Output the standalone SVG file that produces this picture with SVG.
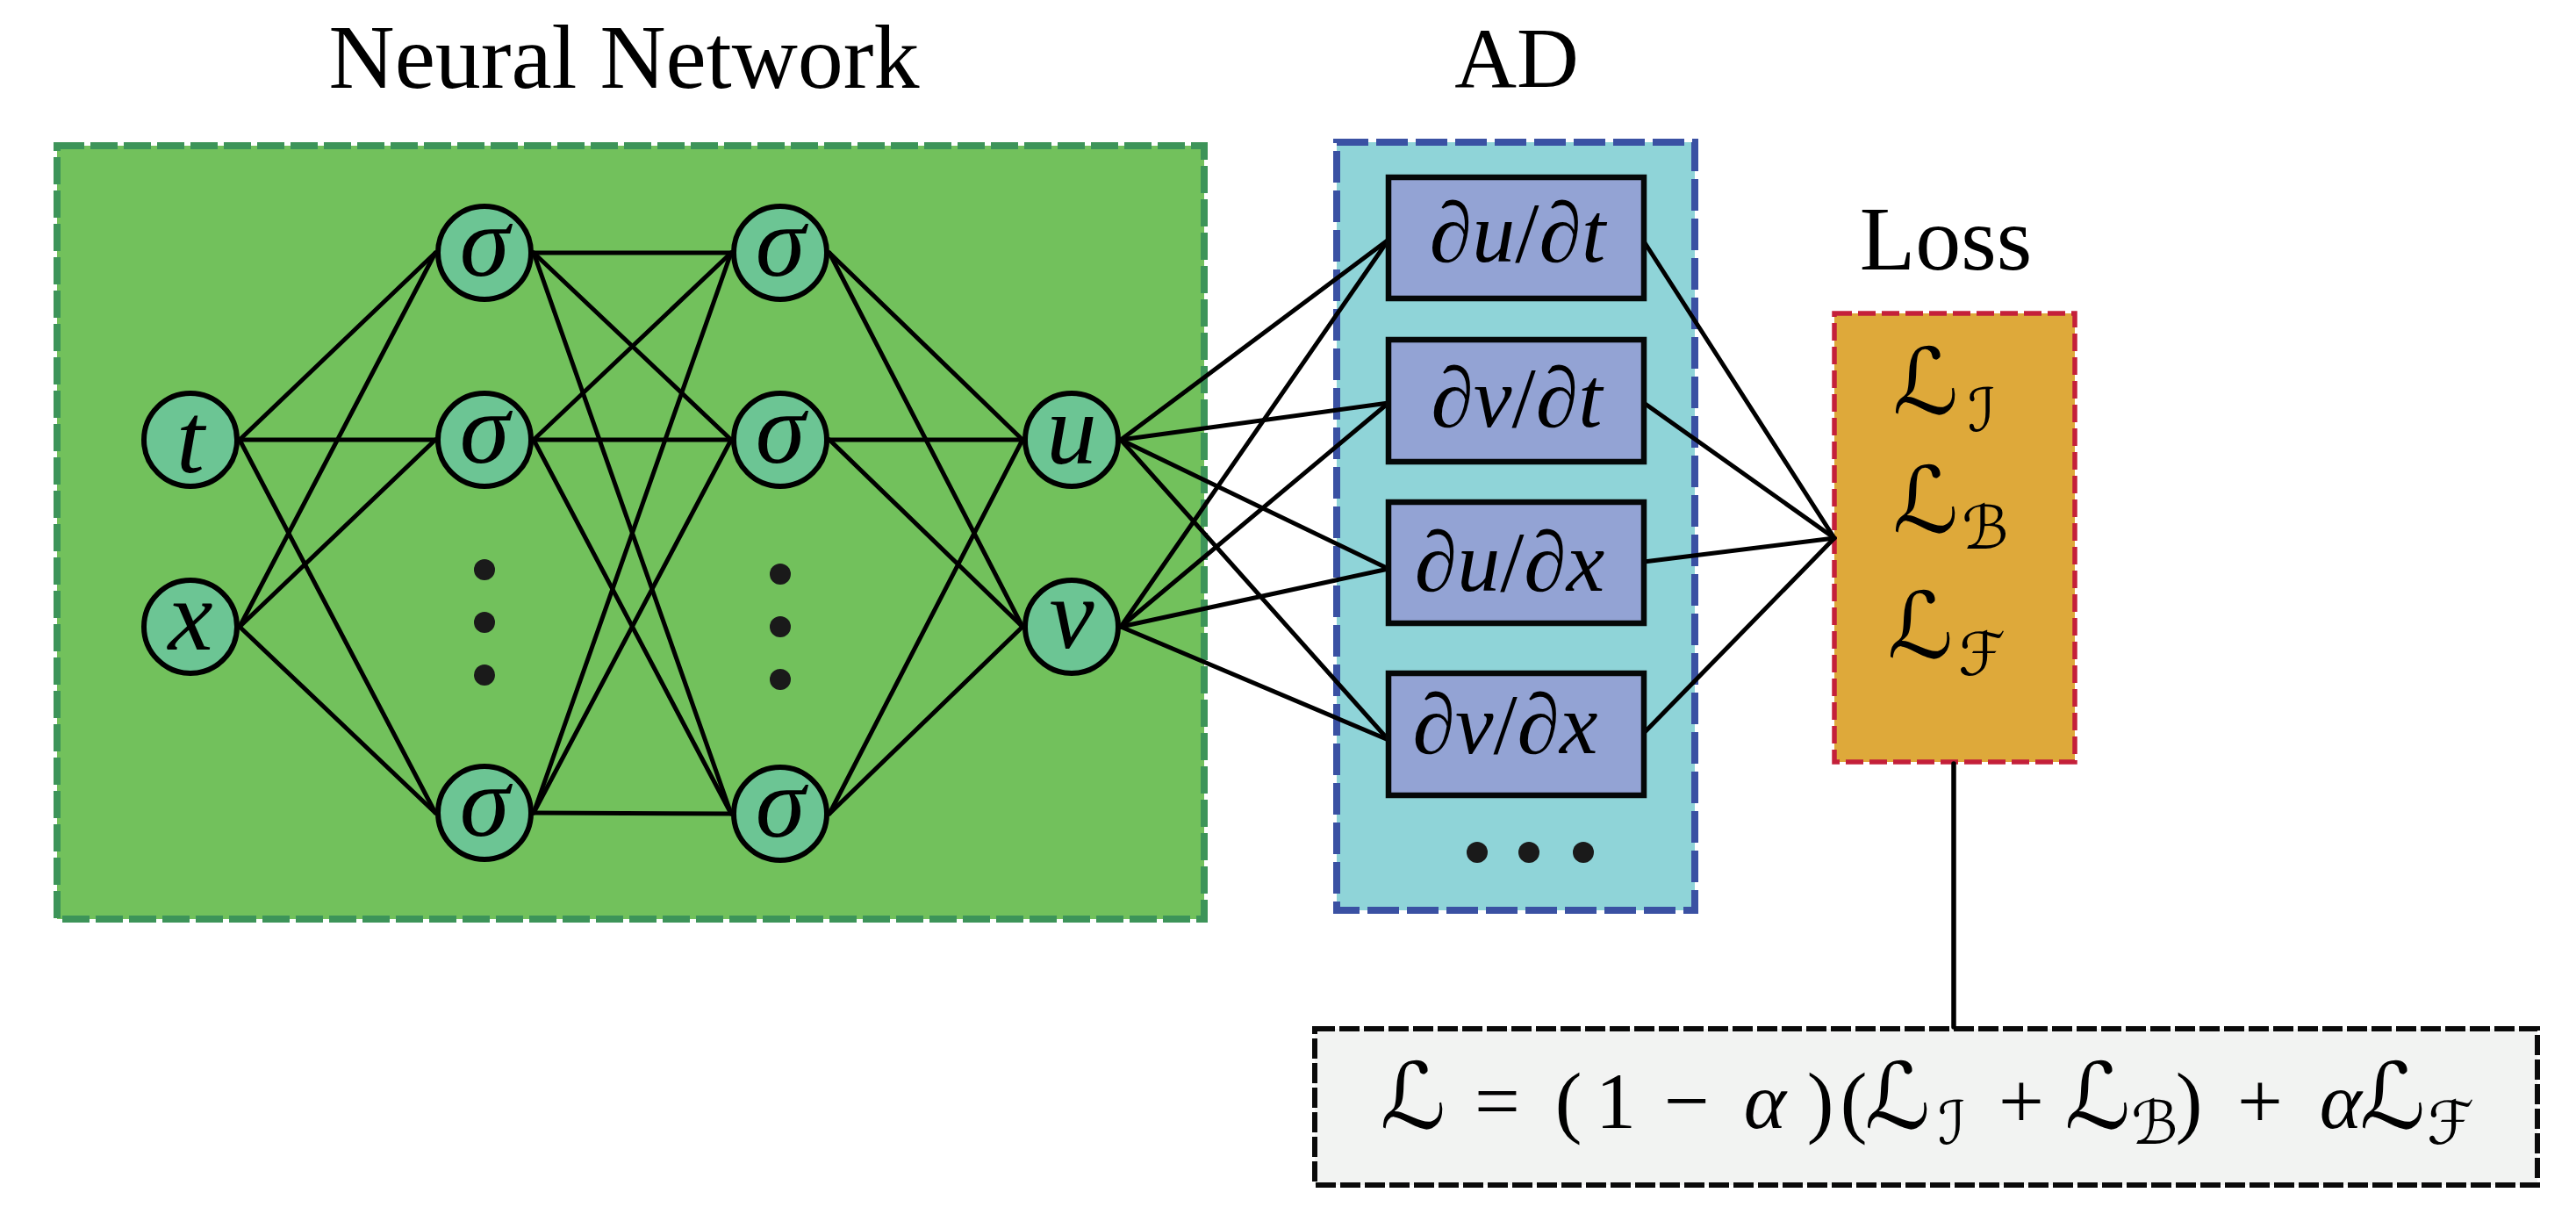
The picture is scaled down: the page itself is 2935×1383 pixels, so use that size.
<svg xmlns="http://www.w3.org/2000/svg" width="2935" height="1383" viewBox="0 0 2935 1383">
<style>
.title{font-family:"Liberation Serif","Times New Roman",serif;fill:#000;text-anchor:middle}
.nl{font-family:"Liberation Serif","Times New Roman",serif;font-style:italic;font-size:115px;fill:#000;text-anchor:middle}
.node{fill:#6cc594;stroke:#000;stroke-width:6}
.box{fill:#93a3d4;stroke:#050808;stroke-width:6.5}
.dl{font-family:"Liberation Serif","Times New Roman",serif;font-size:98px;fill:#000;text-anchor:middle}
.it{font-style:italic}
.m{font-family:"Liberation Serif","DejaVu Serif","DejaVu Sans",serif;fill:#000;text-anchor:middle}
.L{font-family:"DejaVu Serif","DejaVu Sans",serif}
.conn line{stroke:#000;stroke-width:5;stroke-linecap:round}
.dot{fill:#1a1a1a}
</style>
<!-- titles -->
<text class="title" x="711" y="100" font-size="104">Neural Network</text>
<text class="title" x="1728" y="99" font-size="98">AD</text>
<text class="title" x="2217" y="307" font-size="104">Loss</text>

<!-- containers -->
<g id="nn-box"><rect x="65" y="166" width="1307" height="881" fill="#72c15c" stroke="#3d9459" stroke-width="8" stroke-dasharray="31 7"/></g>
<g id="ad-box"><rect x="1523" y="162" width="408" height="875" fill="#8fd4d8" stroke="#3a51a3" stroke-width="8" stroke-dasharray="36 9"/></g>
<g id="loss-box"><rect x="2090" y="357" width="274" height="511" fill="#dea93a" stroke="#c4203a" stroke-width="5.5" stroke-dasharray="20 7"/></g>
<g id="formula-box"><rect x="1498" y="1172" width="1393" height="178" fill="#f2f3f2" stroke="#0a0a0a" stroke-width="6" stroke-dasharray="23 5"/></g>

<!-- connectors -->
<g id="connectors" class="conn">
  <line x1="273" y1="501" x2="496" y2="288"/>
  <line x1="273" y1="501" x2="496" y2="501"/>
  <line x1="273" y1="501" x2="496" y2="926"/>
  <line x1="273" y1="714" x2="496" y2="288"/>
  <line x1="273" y1="714" x2="496" y2="501"/>
  <line x1="273" y1="714" x2="496" y2="926"/>
  <line x1="608" y1="288" x2="833" y2="288"/>
  <line x1="608" y1="288" x2="833" y2="501"/>
  <line x1="608" y1="288" x2="833" y2="927"/>
  <line x1="608" y1="501" x2="833" y2="288"/>
  <line x1="608" y1="501" x2="833" y2="501"/>
  <line x1="608" y1="501" x2="833" y2="927"/>
  <line x1="608" y1="926" x2="833" y2="288"/>
  <line x1="608" y1="926" x2="833" y2="501"/>
  <line x1="608" y1="926" x2="833" y2="927"/>
  <line x1="945" y1="288" x2="1165" y2="501"/>
  <line x1="945" y1="288" x2="1165" y2="714"/>
  <line x1="945" y1="501" x2="1165" y2="501"/>
  <line x1="945" y1="501" x2="1165" y2="714"/>
  <line x1="945" y1="927" x2="1165" y2="501"/>
  <line x1="945" y1="927" x2="1165" y2="714"/>
  <line x1="1277" y1="501" x2="1582" y2="273"/>
  <line x1="1277" y1="501" x2="1582" y2="459"/>
  <line x1="1277" y1="501" x2="1582" y2="648"/>
  <line x1="1277" y1="501" x2="1582" y2="843"/>
  <line x1="1277" y1="714" x2="1582" y2="273"/>
  <line x1="1277" y1="714" x2="1582" y2="459"/>
  <line x1="1277" y1="714" x2="1582" y2="648"/>
  <line x1="1277" y1="714" x2="1582" y2="843"/>
  <line x1="1873" y1="275" x2="2090" y2="613"/>
  <line x1="1873" y1="459" x2="2090" y2="613"/>
  <line x1="1873" y1="640" x2="2090" y2="613"/>
  <line x1="1873" y1="835" x2="2090" y2="613"/>
  <line x1="2226" y1="870" x2="2226" y2="1170" style="stroke-width:5.5"/>
</g>

<!-- nodes -->
<g id="node-t"><circle class="node" cx="217" cy="501" r="53"/><text class="nl" x="217" y="538">t</text></g>
<g id="node-x"><circle class="node" cx="217" cy="714" r="53"/><text class="nl" x="217" y="740">x</text></g>
<g id="node-h1a"><circle class="node" cx="552" cy="288" r="53"/><text class="nl" x="552" y="314">σ</text></g>
<g id="node-h1b"><circle class="node" cx="552" cy="501" r="53"/><text class="nl" x="552" y="527">σ</text></g>
<g id="node-h1c"><circle class="node" cx="552" cy="926" r="53"/><text class="nl" x="552" y="952">σ</text></g>
<g id="dots-h1"><circle class="dot" cx="552" cy="649" r="12"/><circle class="dot" cx="552" cy="709" r="12"/><circle class="dot" cx="552" cy="769" r="12"/></g>
<g id="node-h2a"><circle class="node" cx="889" cy="288" r="53"/><text class="nl" x="889" y="314">σ</text></g>
<g id="node-h2b"><circle class="node" cx="889" cy="501" r="53"/><text class="nl" x="889" y="527">σ</text></g>
<g id="node-h2c"><circle class="node" cx="889" cy="927" r="53"/><text class="nl" x="889" y="953">σ</text></g>
<g id="dots-h2"><circle class="dot" cx="889" cy="654" r="12"/><circle class="dot" cx="889" cy="714" r="12"/><circle class="dot" cx="889" cy="774" r="12"/></g>
<g id="node-u"><circle class="node" cx="1221" cy="501" r="53"/><text class="nl" x="1221" y="528">u</text></g>
<g id="node-v"><circle class="node" cx="1221" cy="714" r="53"/><text class="nl" x="1221" y="738">v</text></g>

<!-- AD boxes -->
<g id="ad-ut"><rect class="box" x="1582" y="202" width="291" height="138"/><text class="dl" x="1729" y="298">∂<tspan class="it">u</tspan>/∂<tspan class="it">t</tspan></text></g>
<g id="ad-vt"><rect class="box" x="1582" y="387" width="291" height="139"/><text class="dl" x="1728" y="486">∂<tspan class="it">v</tspan>/∂<tspan class="it">t</tspan></text></g>
<g id="ad-ux"><rect class="box" x="1582" y="572" width="291" height="138"/><text class="dl" x="1720" y="673">∂<tspan class="it">u</tspan>/∂<tspan class="it">x</tspan></text></g>
<g id="ad-vx"><rect class="box" x="1582" y="767" width="291" height="139"/><text class="dl" x="1715" y="858">∂<tspan class="it">v</tspan>/∂<tspan class="it">x</tspan></text></g>
<g id="dots-ad"><circle class="dot" cx="1683" cy="971" r="12"/><circle class="dot" cx="1742" cy="971" r="12"/><circle class="dot" cx="1804" cy="971" r="12"/></g>

<!-- loss terms -->
<g id="loss-terms">
  <text class="m L" font-size="104"><tspan x="2194" y="471">ℒ</tspan><tspan x="2258" y="491" font-size="68">ℐ</tspan></text>
  <text class="m L" font-size="104"><tspan x="2194" y="606">ℒ</tspan><tspan x="2262" y="625" font-size="68">ℬ</tspan></text>
  <text class="m L" font-size="104"><tspan x="2188" y="749">ℒ</tspan><tspan x="2258" y="769" font-size="68">ℱ</tspan></text>
</g>

<!-- formula -->
<g id="formula">
  <text class="m" font-size="92"><tspan class="L" x="1610" y="1285" font-size="104">ℒ</tspan><tspan x="1706" y="1285">=</tspan><tspan x="1787" y="1285">(</tspan><tspan x="1841" y="1285">1</tspan><tspan x="1922" y="1285">−</tspan><tspan x="2011" y="1285" font-style="italic">α</tspan><tspan x="2074" y="1285">)</tspan><tspan x="2112" y="1285">(</tspan><tspan class="L" x="2162" y="1285" font-size="104">ℒ</tspan><tspan class="L" x="2224" y="1303" font-size="68">ℐ</tspan><tspan x="2303" y="1285">+</tspan><tspan class="L" x="2390" y="1285" font-size="104">ℒ</tspan><tspan class="L" x="2455" y="1303" font-size="68">ℬ</tspan><tspan x="2494" y="1285">)</tspan><tspan x="2575" y="1285">+</tspan><tspan x="2667" y="1285" font-style="italic">α</tspan><tspan class="L" x="2726" y="1285" font-size="104">ℒ</tspan><tspan class="L" x="2792" y="1303" font-size="68">ℱ</tspan></text>
</g>
</svg>
